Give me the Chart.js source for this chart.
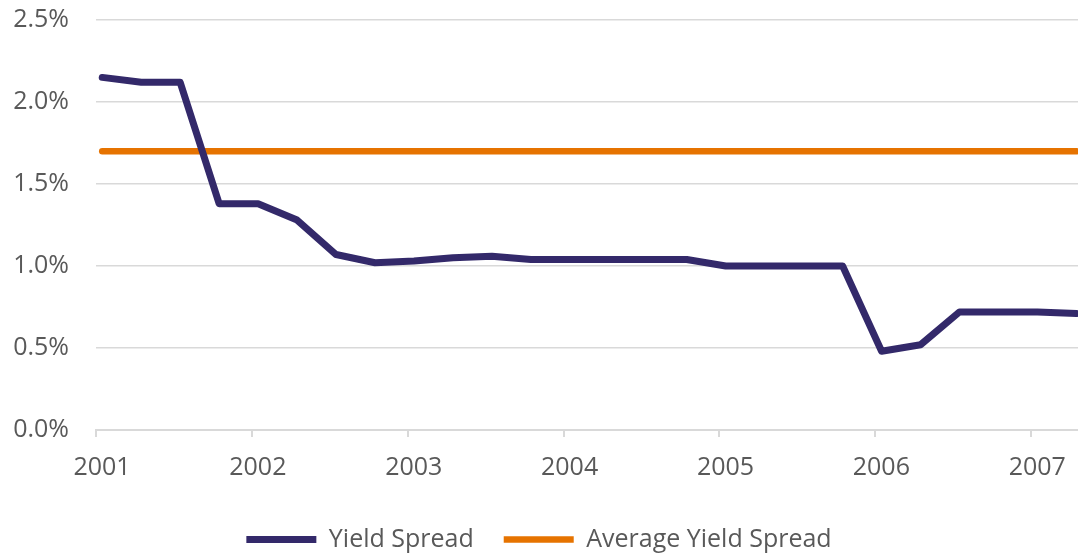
<!DOCTYPE html>
<html lang="en">
<head>
  <meta charset="UTF-8" />
  <title>Yield Spread</title>
  <script src="https://cdn.jsdelivr.net/npm/chart.js"></script>
  <style>
    html, body {
      margin: 0;
      padding: 0;
      background: #fff;
    }
    .chart-box {
      position: relative;
      width: 1078px;
      height: 556px;
    }
  </style>
</head>
<body>
  <div class="chart-box">
    <canvas id="spreadChart"></canvas>
  </div>

  <script>
    // dates as decimal years (quarterly observations)
    const quarterDates = [
      2001.04, 2001.29, 2001.54, 2001.79,
      2002.04, 2002.29, 2002.54, 2002.79,
      2003.04, 2003.29, 2003.54, 2003.79,
      2004.04, 2004.29, 2004.54, 2004.79,
      2005.04, 2005.29, 2005.54, 2005.79,
      2006.04, 2006.29, 2006.54, 2006.79,
      2007.04, 2007.29
    ];
    // yield spread, percent
    const yieldSpread = [
      2.15, 2.12, 2.12, 1.38,
      1.38, 1.28, 1.07, 1.02,
      1.03, 1.05, 1.06, 1.04,
      1.04, 1.04, 1.04, 1.04,
      1.00, 1.00, 1.00, 1.00,
      0.48, 0.52, 0.72, 0.72,
      0.72, 0.71
    ];
    const averageDates = [2001.04, 2007.29];
    const averageSpread = [1.70, 1.70];
    const yTicks = [0, 0.5, 1.0, 1.5, 2.0, 2.5];
    const yearTicks = [2001, 2002, 2003, 2004, 2005, 2006, 2007];

    const navy = '#33296a';
    const orange = '#e67300';
    const grey = '#d9d9d9';
    const labelColor = '#595959';
    const fontFamily = '"Open Sans", "Noto Sans", sans-serif';

    const ctx = document.getElementById('spreadChart').getContext('2d');
    new Chart(ctx, {
      type: 'line',
      data: {
        datasets: [
          {
            label: 'Yield Spread',
            data: quarterDates.map((d, i) => ({ x: d, y: yieldSpread[i] })),
            borderColor: navy,
            backgroundColor: navy,
            borderWidth: 7,
            borderCapStyle: 'round',
            borderJoinStyle: 'round',
            pointRadius: 0,
            tension: 0
          },
          {
            label: 'Average Yield Spread',
            data: averageDates.map((d, i) => ({ x: d, y: averageSpread[i] })),
            borderColor: orange,
            backgroundColor: orange,
            borderWidth: 6.5,
            borderCapStyle: 'round',
            pointRadius: 0
          }
        ]
      },
      options: {
        responsive: true,
        maintainAspectRatio: false,
        animation: false,
        layout: { padding: { top: 20, right: 0, left: 0, bottom: -6 } },
        scales: {
          x: {
            type: 'linear',
            min: 2001,
            max: 2007.3,
            afterBuildTicks: (scale) => {
              scale.ticks = yearTicks.map(v => ({ value: v }));
            },
            afterFit: (scale) => { scale.height = 67; },
            border: { display: true, color: grey, width: 2 },
            grid: {
              drawOnChartArea: false,
              drawTicks: true,
              tickLength: 7,
              color: grey,
              lineWidth: 2
            },
            ticks: {
              color: labelColor,
              font: { family: fontFamily, size: 25 },
              padding: 16,
              labelOffset: 6,
              maxRotation: 0,
              callback: (v) => String(v)
            }
          },
          y: {
            min: 0,
            max: 2.5,
            afterBuildTicks: (scale) => {
              scale.ticks = yTicks.map(v => ({ value: v }));
            },
            afterFit: (scale) => { scale.width = 96; },
            border: { display: false },
            grid: {
              drawTicks: true,
              tickLength: 25,
              tickColor: 'rgba(0,0,0,0)',
              color: grey,
              lineWidth: 1.5
            },
            ticks: {
              color: labelColor,
              font: { family: fontFamily, size: 25 },
              padding: 2,
              callback: (v) => v.toFixed(1) + '%'
            }
          }
        },
        plugins: {
          tooltip: { enabled: false },
          legend: {
            position: 'bottom',
            labels: {
              usePointStyle: true,
              pointStyle: 'line',
              pointStyleWidth: 70,
              boxHeight: 6,
              padding: 30,
              color: labelColor,
              font: { family: fontFamily, size: 25 }
            }
          }
        }
      }
    });
  </script>
</body>
</html>
